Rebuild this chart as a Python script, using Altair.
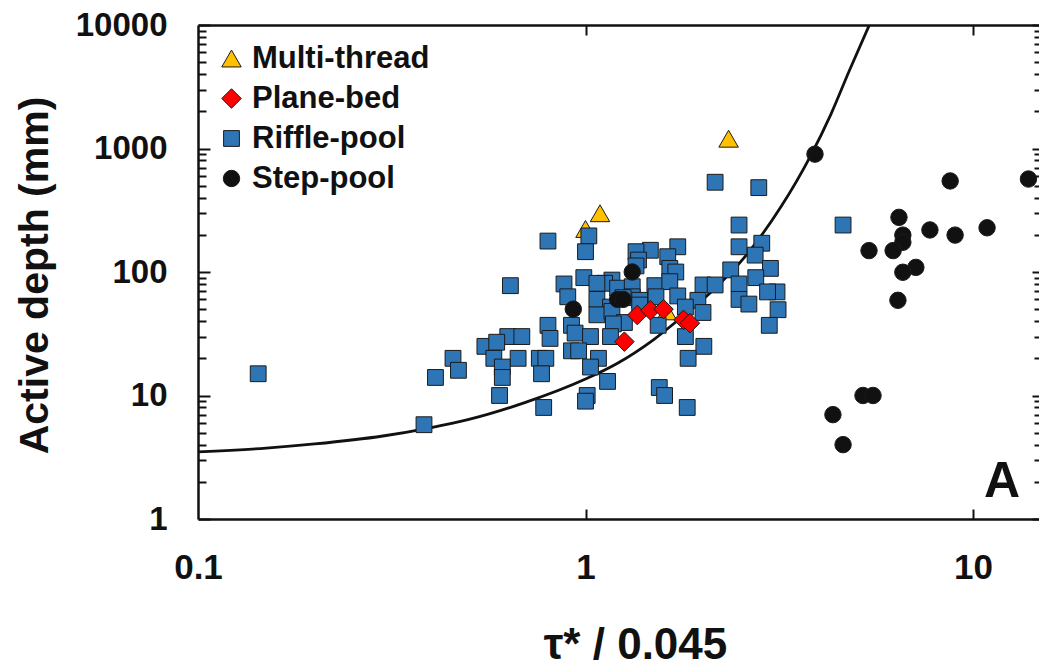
import altair as alt
import pandas as pd

# ---- data -------------------------------------------------------------
classes = ["Multi-thread", "Plane-bed", "Riffle-pool", "Step-pool"]
class_colors = ["#FFC000", "#FF0000", "#2E75B6", "#111111"]
class_shapes = ["triangle-up", "diamond", "square", "circle"]
class_sizes = [380, 380, 250, 270]

mt_x = [1.09, 1.00, 2.34, 1.62]
mt_y = [299, 223, 1200, 48]

rp_x = [2.16, 2.80, 0.80, 1.02, 1.00, 2.49, 2.49, 2.85, 2.74, 1.47,
        1.35, 1.37, 1.35, 1.73, 1.63, 1.65, 1.71, 2.37, 3.00, 0.64,
        0.99, 0.88, 0.90, 1.17, 1.12, 1.07, 1.21, 1.32, 1.51, 1.65,
        2.01, 2.16, 2.49, 2.75, 3.12, 2.95, 2.49, 2.64, 3.14, 2.98,
        1.07, 1.16, 1.32, 1.25, 1.38, 1.38, 1.52, 1.73, 1.95, 1.81,
        2.01, 1.07, 1.17, 1.26, 1.18, 1.54, 0.80, 0.92, 0.81, 0.94,
        1.03, 1.16, 1.81, 0.63, 0.685, 0.55, 0.59, 0.455, 0.47, 0.41,
        0.58, 0.67, 0.61, 0.61, 0.76, 0.79, 0.77, 0.92, 0.96, 1.08,
        1.03, 2.02, 1.84, 0.60, 0.78, 1.01, 1.00, 1.14, 1.55, 1.60,
        1.83, 0.383, 0.143, 4.62]
rp_y = [533, 482, 178, 196, 146, 240, 160, 171, 137, 150,
        146, 125, 112, 160, 133, 107, 100, 104, 107, 77.5,
        90, 80, 63, 86, 81, 81, 74, 76, 77.5, 83.5,
        78.5, 78.5, 80, 90, 69, 69, 60, 55, 49.5, 37,
        60, 52, 63, 62, 59, 54, 63, 64, 59, 52,
        47, 45, 48, 39, 38, 37, 37, 37, 29, 32,
        30, 30, 30, 30, 30, 25, 27, 20, 16, 14,
        20, 20, 17, 14, 20, 20, 15, 23, 23, 20,
        17, 25, 20, 10, 8, 10, 9, 13, 11.6, 10,
        8, 5.8, 15, 240]

pb_x = [1.36, 1.47, 1.59, 1.79, 1.86, 1.26]
pb_y = [44.8, 49, 50, 41, 38.5, 27.3]

sp_x = [0.93, 1.32, 1.21, 1.25, 3.91, 8.73, 13.9, 6.44, 6.59, 6.59,
        7.74, 8.99, 10.87, 5.39, 6.22, 7.12, 6.59, 6.40, 5.20, 5.52,
        4.35, 4.62]
sp_y = [50, 100, 60, 60, 900, 546, 566, 277, 199, 174,
        219, 199, 228, 149, 149, 109, 99.5, 59, 10, 10,
        7, 4.0]

# threshold curve
curve_x = [0.10, 0.15, 0.20, 0.30, 0.40, 0.50, 0.70, 1.00, 1.20, 1.50,
           1.80, 2.10, 2.60, 3.20, 3.80, 4.30, 4.80, 5.40]
curve_y = [3.5, 3.75, 4.05, 4.7, 5.5, 6.4, 8.8, 13.6, 18.0, 28.4,
           45, 68, 137, 340, 860, 1900, 4300, 10000]

x_major = [0.1, 1, 10]
y_major = [1, 10, 100, 1000, 10000]
y_minor = [m * 10 ** k for k in range(4) for m in range(2, 10)]

# ---- frames -----------------------------------------------------------
pts = pd.concat([
    pd.DataFrame({"x": mt_x, "y": mt_y, "cls": classes[0]}),
    pd.DataFrame({"x": rp_x, "y": rp_y, "cls": classes[2]}),
    pd.DataFrame({"x": pb_x, "y": pb_y, "cls": classes[1]}),
    pd.DataFrame({"x": sp_x, "y": sp_y, "cls": classes[3]}),
], ignore_index=True)
curve = pd.DataFrame({"x": curve_x, "y": curve_y})

FONT = "Liberation Sans, Arial, sans-serif"
W, H = 841, 494

xs = alt.Scale(type="log", domain=[0.1, 14.8], nice=False)
ys = alt.Scale(type="log", domain=[1, 10000], nice=False)


def tick_axis(orient, values, size):
    # ticks drawn on the inside of the frame
    return alt.Axis(orient=orient, values=values, offset=-size, tickSize=size,
                    tickWidth=2, tickColor="#111", labels=False, domain=False,
                    grid=False, title=None)


def frame_axis(orient):
    return alt.Axis(orient=orient, ticks=False, labels=False, domain=True,
                    domainColor="#111", domainWidth=2.5, grid=False, title=None)


# points with main labelled axes
points = alt.Chart(pts).mark_point(
    filled=True, opacity=1, stroke="#1b1b1b", strokeWidth=1
).encode(
    x=alt.X("x:Q", scale=xs, axis=alt.Axis(
        orient="bottom", values=x_major, format="~g", tickSize=0, ticks=False,
        domain=True, domainColor="#111", domainWidth=2.5, grid=False,
        labelFont=FONT, labelFontSize=35, labelFontWeight="bold", labelColor="#111",
        labelPadding=31, labelFlush=False,
        title="τ* / 0.045", titleFont=FONT, titleFontSize=44, titleFontWeight="bold",
        titleColor="#111", titleX=437, titleY=139, titleBaseline="alphabetic")),
    y=alt.Y("y:Q", scale=ys, axis=alt.Axis(
        orient="left", values=y_major, format="d", tickSize=0, ticks=False,
        domain=True, domainColor="#111", domainWidth=2.5, grid=False,
        labelFont=FONT, labelFontSize=33, labelFontWeight="bold", labelColor="#111",
        labelPadding=31, labelFlush=False,
        title="Active depth (mm)", titleFont=FONT, titleFontSize=41,
        titleFontWeight="bold", titleColor="#111", titleX=-163, titleY=250,
        titleBaseline="middle", titleAngle=270)),
    color=alt.Color("cls:N", scale=alt.Scale(domain=classes, range=class_colors),
                    legend=alt.Legend(
                        orient="none", legendX=18, legendY=18, title=None,
                        labelFont=FONT, labelFontSize=31, labelFontWeight="bold",
                        labelColor="#111", labelLimit=400, symbolSize=240,
                        symbolStrokeColor="#1b1b1b", symbolStrokeWidth=1,
                        rowPadding=8, labelOffset=5, padding=0)),
    shape=alt.Shape("cls:N", scale=alt.Scale(domain=classes, range=class_shapes)),
    size=alt.Size("cls:N", scale=alt.Scale(type="ordinal", domain=classes,
                                           range=class_sizes),
                  legend=None),
    order=alt.Order("idx:Q"),
).transform_window(idx="row_number()")

# threshold curve, with the top frame line and the left major ticks
line = alt.Chart(curve).mark_line(color="#111", strokeWidth=2.8, clip=True,
                                  interpolate="monotone").encode(
    x=alt.X("x:Q", scale=xs, axis=frame_axis("top")),
    y=alt.Y("y:Q", scale=ys, axis=tick_axis("left", y_major, 12)),
)

ghost = alt.Chart(curve).mark_point(opacity=0, size=1)

ticks_a = ghost.encode(
    x=alt.X("x:Q", scale=xs, axis=tick_axis("bottom", [1, 10], 10)),
    y=alt.Y("y:Q", scale=ys, axis=tick_axis("left", y_minor, 8)),
)
ticks_b = ghost.encode(
    x=alt.X("x:Q", scale=xs, axis=tick_axis("top", [1, 10], 10)),
    y=alt.Y("y:Q", scale=ys, axis=tick_axis("right", y_major, 7)),
)
ticks_c = ghost.encode(
    x=alt.X("x:Q", scale=xs, axis=None),
    y=alt.Y("y:Q", scale=ys, axis=tick_axis("right", y_minor, 5)),
)

panel = alt.Chart(pd.DataFrame({"label": ["A"]})).mark_text(
    font=FONT, fontSize=50, fontWeight="bold", color="#111",
    align="center", baseline="alphabetic"
).encode(text="label:N", x=alt.value(804), y=alt.value(472))

chart = alt.layer(
    ticks_a, ticks_b, ticks_c, line, points, panel
).resolve_axis(
    x="independent", y="independent"
).properties(
    width=W, height=H,
    padding={"left": 198, "top": 25, "right": 0, "bottom": 147},
    autosize=alt.AutoSizeParams(type="none"),
    background="white",
).configure_view(stroke=None)

chart.save("out.html", embed_options={"renderer": "svg", "actions": False})
